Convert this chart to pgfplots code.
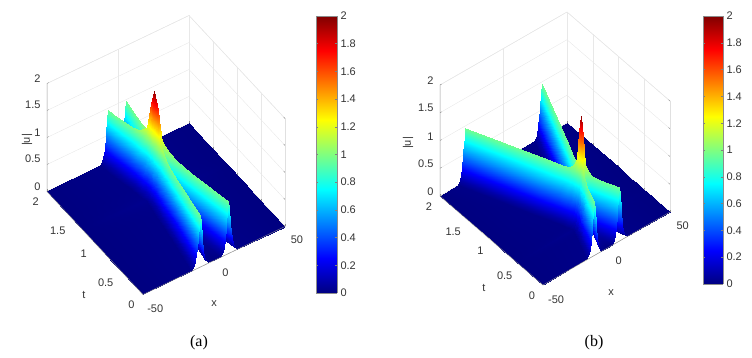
\documentclass[border=0pt]{standalone}
\usepackage{fontspec}
\setmainfont{Liberation Sans}
\newfontfamily\capfont{Liberation Serif}
\usepackage{pgfplots}
\pgfplotsset{compat=1.18}
\pgfplotsset{
  colormap={myjet}{rgb255(0pt)=(0,0,128); rgb255(1pt)=(0,0,255); rgb255(3pt)=(0,255,255); rgb255(5pt)=(255,255,0); rgb255(7pt)=(255,0,0); rgb255(8pt)=(128,0,0)},
  surfbox/.style={
    anchor=origin, clip=false,
    xmin=-50, xmax=50, ymin=0, ymax=2, zmin=0, zmax=2,
    xtick={-50,0,50}, ytick={0,0.5,1,1.5,2}, ztick={0,0.5,1,1.5,2},
    tick pos=left,
    grid=major, grid style={black!9, line width=0.4pt},
    axis line style={black!12, line width=0.4pt},
    tick style={black!45, line width=0.4pt}, major tick length=2pt,
    tick label style={font=\fontsize{11}{13}\selectfont, text=black!80},
    xticklabel style={xshift=8pt, yshift=-3.5pt},
    yticklabel style={xshift=-6pt, yshift=-2pt},
    zticklabel style={xshift=-3pt, yshift=3.5pt},
    /pgf/number format/assume math mode=true,
    point meta min=0, point meta max=2, colormap name=myjet,
  },
  cbar/.style={
    anchor=south west, scale only axis, width=21pt, height=277pt, enlargelimits=false,
    view={0}{90},
    xmin=0, xmax=1, ymin=0, ymax=2, xtick=\empty, ytick={0,0.2,...,2.01},
    yticklabel pos=right, axis on top,
    axis line style={black!45, line width=0.4pt},
    tick style={black!50, line width=0.4pt}, major tick length=2pt,
    tick label style={font=\fontsize{11}{13}\selectfont, text=black!80},
    /pgf/number format/assume math mode=true,
    /pgf/number format/fixed,
    point meta min=0, point meta max=2, colormap name=myjet,
  },
}
\begin{document}
\begin{tikzpicture}
\path[use as bounding box] (0pt,0pt) rectangle (752pt,358pt);

% panel a
\begin{axis}[surfbox, at={(214pt,97.5pt)},
  x={(1.42pt,0.68pt)}, y={(-48pt,51.5pt)}, z={(0pt,54pt)}]
\addplot3[surf, shader=interp, mesh/rows=13, mesh/cols=25] coordinates {
(-50,0,0)(-16,0,.016)(-14,0,.079)(-12.5,0,.258)(-11.5,0,.536)(-10.7,0,.835)(-10,0,.97)(-9.3,0,.835)(-8.5,0,.536)(-7.5,0,.258)(-6,0,.079)(-4,0,.016)(0,0,.001)(4,0,.016)(6,0,.079)(7.5,0,.258)(8.5,0,.536)(9.3,0,.835)(10,0,.97)(10.7,0,.835)(11.5,0,.536)(12.5,0,.258)(14,0,.079)(16,0,.016)(50,0,0)
(-50,.615,0)(-11.2,.615,.016)(-9.2,.615,.079)(-7.7,.615,.258)(-6.7,.615,.536)(-5.9,.615,.835)(-5.2,.615,.971)(-4.5,.615,.836)(-3.7,.615,.538)(-2.7,.615,.263)(-1.7,.615,.129)(-.9,.615,.083)(-.2,.615,.071)(.5,.615,.083)(1.3,.615,.129)(2.3,.615,.263)(3.3,.615,.538)(4.1,.615,.836)(4.8,.615,.971)(5.5,.615,.835)(6.3,.615,.536)(7.3,.615,.258)(8.8,.615,.079)(10.8,.615,.016)(50,.615,0)
(-50,.86,0)(-9.3,.86,.016)(-7.3,.86,.08)(-5.8,.86,.26)(-4.8,.86,.541)(-4,.86,.844)(-3.3,.86,.986)(-2.8,.86,.921)(-2.3,.86,.761)(-1.8,.86,.589)(-1.3,.86,.455)(-.8,.86,.376)(-.3,.86,.349)(.2,.86,.376)(.7,.86,.455)(1.2,.86,.589)(1.7,.86,.761)(2.2,.86,.921)(2.7,.86,.986)(3.4,.86,.844)(4.2,.86,.541)(5.2,.86,.26)(6.7,.86,.08)(8.7,.86,.016)(50,.86,0)
(-50,.984,0)(-8.3,.984,.016)(-6.3,.984,.082)(-4.8,.984,.269)(-3.8,.984,.56)(-3,.984,.88)(-2.3,.984,1.049)(-1.9,.984,1.031)(-1.5,.984,.949)(-1.1,.984,.852)(-.7,.984,.779)(-.5,.984,.759)(-.3,.984,.753)(-.1,.984,.759)(.1,.984,.779)(.5,.984,.852)(.9,.984,.949)(1.3,.984,1.031)(1.7,.984,1.049)(2.4,.984,.88)(3.2,.984,.56)(4.2,.984,.269)(5.7,.984,.082)(7.7,.984,.016)(50,.984,0)
(-50,1.107,0)(-7.4,1.107,.019)(-5.4,1.107,.09)(-3.9,1.107,.29)(-2.9,1.107,.6)(-2.1,1.107,.95)(-1.4,1.107,1.14)(-1.2,1.107,1.17)(-1,1.107,1.19)(-.8,1.107,1.2)(-.6,1.107,1.21)(-.5,1.107,1.21)(-.4,1.107,1.21)(-.3,1.107,1.21)(-.2,1.107,1.21)(0,1.107,1.2)(.2,1.107,1.19)(.4,1.107,1.17)(.6,1.107,1.14)(1.3,1.107,.95)(2.1,1.107,.6)(3.1,1.107,.29)(4.6,1.107,.09)(6.6,1.107,.019)(50,1.107,0)
(-50,1.169,0)(-6.9,1.169,.023)(-4.9,1.169,.11)(-3.4,1.169,.35)(-2.4,1.169,.72)(-1.6,1.169,1.12)(-.9,1.169,1.6)(-.8,1.169,1.63)(-.7,1.169,1.66)(-.6,1.169,1.68)(-.5,1.169,1.69)(-.45,1.169,1.7)(-.4,1.169,1.7)(-.35,1.169,1.7)(-.3,1.169,1.69)(-.2,1.169,1.68)(-.1,1.169,1.66)(0,1.169,1.63)(.1,1.169,1.6)(.8,1.169,1.12)(1.6,1.169,.72)(2.6,1.169,.35)(4.1,1.169,.11)(6.1,1.169,.023)(50,1.169,0)
(-50,1.23,0)(-6.4,1.23,.03)(-4.4,1.23,.14)(-2.9,1.23,.45)(-1.9,1.23,.95)(-1.1,1.23,1.5)(-.4,1.23,1.98)(-.4,1.23,1.98)(-.4,1.23,1.98)(-.4,1.23,1.98)(-.4,1.23,1.98)(-.4,1.23,1.98)(-.4,1.23,1.98)(-.4,1.23,1.98)(-.4,1.23,1.98)(-.4,1.23,1.98)(-.4,1.23,1.98)(-.4,1.23,1.98)(-.4,1.23,1.98)(.3,1.23,1.5)(1.1,1.23,.95)(2.1,1.23,.45)(3.6,1.23,.14)(5.6,1.23,.03)(50,1.23,0)
(-50,1.29,0)(-6.9,1.29,.023)(-4.9,1.29,.11)(-3.4,1.29,.35)(-2.4,1.29,.72)(-1.6,1.29,1.12)(-.9,1.29,1.6)(-.8,1.29,1.63)(-.7,1.29,1.66)(-.6,1.29,1.68)(-.5,1.29,1.69)(-.45,1.29,1.7)(-.4,1.29,1.7)(-.35,1.29,1.7)(-.3,1.29,1.69)(-.2,1.29,1.68)(-.1,1.29,1.66)(0,1.29,1.63)(.1,1.29,1.6)(.8,1.29,1.12)(1.6,1.29,.72)(2.6,1.29,.35)(4.1,1.29,.11)(6.1,1.29,.023)(50,1.29,0)
(-50,1.353,0)(-7.5,1.353,.019)(-5.5,1.353,.09)(-4,1.353,.29)(-3,1.353,.6)(-2.2,1.353,.95)(-1.5,1.353,1.14)(-1.3,1.353,1.17)(-1.1,1.353,1.19)(-.9,1.353,1.2)(-.7,1.353,1.21)(-.6,1.353,1.21)(-.5,1.353,1.21)(-.4,1.353,1.21)(-.3,1.353,1.21)(-.1,1.353,1.2)(.1,1.353,1.19)(.3,1.353,1.17)(.5,1.353,1.14)(1.2,1.353,.95)(2,1.353,.6)(3,1.353,.29)(4.5,1.353,.09)(6.5,1.353,.019)(50,1.353,0)
(-50,1.476,0)(-8.5,1.476,.016)(-6.5,1.476,.082)(-5,1.476,.269)(-4,1.476,.56)(-3.2,1.476,.88)(-2.5,1.476,1.049)(-2.1,1.476,1.031)(-1.7,1.476,.949)(-1.3,1.476,.852)(-.9,1.476,.779)(-.7,1.476,.759)(-.5,1.476,.753)(-.3,1.476,.759)(-.1,1.476,.779)(.3,1.476,.852)(.7,1.476,.949)(1.1,1.476,1.031)(1.5,1.476,1.049)(2.2,1.476,.88)(3,1.476,.56)(4,1.476,.269)(5.5,1.476,.082)(7.5,1.476,.016)(50,1.476,0)
(-50,1.6,0)(-9.6,1.6,.016)(-7.6,1.6,.08)(-6.1,1.6,.26)(-5.1,1.6,.541)(-4.3,1.6,.844)(-3.6,1.6,.986)(-3.1,1.6,.921)(-2.6,1.6,.761)(-2.1,1.6,.589)(-1.6,1.6,.455)(-1.1,1.6,.376)(-.6,1.6,.349)(-.1,1.6,.376)(.4,1.6,.455)(.9,1.6,.589)(1.4,1.6,.761)(1.9,1.6,.921)(2.4,1.6,.986)(3.1,1.6,.844)(3.9,1.6,.541)(4.9,1.6,.26)(6.4,1.6,.08)(8.4,1.6,.016)(50,1.6,0)
(-50,1.845,0)(-11.7,1.845,.016)(-9.7,1.845,.079)(-8.2,1.845,.258)(-7.2,1.845,.536)(-6.4,1.845,.835)(-5.7,1.845,.971)(-5,1.845,.836)(-4.2,1.845,.538)(-3.2,1.845,.263)(-2.2,1.845,.129)(-1.4,1.845,.083)(-.7,1.845,.071)(0,1.845,.083)(.8,1.845,.129)(1.8,1.845,.263)(2.8,1.845,.538)(3.6,1.845,.836)(4.3,1.845,.971)(5,1.845,.835)(5.8,1.845,.536)(6.8,1.845,.258)(8.3,1.845,.079)(10.3,1.845,.016)(50,1.845,0)
(-50,2,0)(-13,2,.016)(-11,2,.079)(-9.5,2,.258)(-8.5,2,.536)(-7.7,2,.835)(-7,2,.971)(-6.3,2,.836)(-5.5,2,.537)(-4.5,2,.26)(-3,2,.081)(-1.8,2,.036)(-.7,2,.025)(.4,2,.036)(1.6,2,.081)(3.1,2,.26)(4.1,2,.537)(4.9,2,.836)(5.6,2,.971)(6.3,2,.835)(7.1,2,.536)(8.1,2,.258)(9.6,2,.079)(11.6,2,.016)(50,2,0)
};
\draw[black!45, line width=0.4pt] (axis cs:-50,2,2)--(axis cs:-50,2,0)--(axis cs:-50,0,0)--(axis cs:50,0,0);
\end{axis}
\begin{axis}[cbar, at={(316pt,65pt)}]
\addplot3[surf, shader=interp, point meta=y, mesh/rows=2, mesh/cols=2] coordinates {(0,0,0)(1,0,0)(0,2,0)(1,2,0)};
\end{axis}

% panel b
\begin{axis}[surfbox, at={(606.5pt,109.5pt)},
  x={(1.27pt,0.73pt)}, y={(-51.5pt,44.5pt)}, z={(0pt,55.5pt)}]
\addplot3[surf, shader=interp, mesh/rows=14, mesh/cols=25] coordinates {
(-50,0,0)(-16,0,.016)(-14,0,.079)(-12.5,0,.258)(-11.5,0,.536)(-10.7,0,.835)(-10,0,.97)(-9.3,0,.835)(-8.5,0,.536)(-7.5,0,.258)(-6,0,.079)(-4,0,.016)(0,0,.001)(4,0,.016)(6,0,.079)(7.5,0,.258)(8.5,0,.536)(9.3,0,.835)(10,0,.97)(10.7,0,.835)(11.5,0,.536)(12.5,0,.258)(14,0,.079)(16,0,.016)(50,0,0)
(-50,.25,0)(-11,.25,.016)(-9,.25,.079)(-7.5,.25,.258)(-6.5,.25,.536)(-5.7,.25,.835)(-5,.25,.971)(-4.3,.25,.836)(-3.5,.25,.538)(-2.5,.25,.263)(-1.5,.25,.129)(-.7,.25,.083)(0,.25,.071)(.7,.25,.083)(1.5,.25,.129)(2.5,.25,.263)(3.5,.25,.538)(4.3,.25,.836)(5,.25,.971)(5.7,.25,.835)(6.5,.25,.536)(7.5,.25,.258)(9,.25,.079)(11,.25,.016)(50,.25,0)
(-50,.35,0)(-9,.35,.016)(-7,.35,.08)(-5.5,.35,.26)(-4.5,.35,.541)(-3.7,.35,.844)(-3,.35,.986)(-2.5,.35,.921)(-2,.35,.761)(-1.5,.35,.589)(-1,.35,.455)(-.5,.35,.376)(0,.35,.349)(.5,.35,.376)(1,.35,.455)(1.5,.35,.589)(2,.35,.761)(2.5,.35,.921)(3,.35,.986)(3.7,.35,.844)(4.5,.35,.541)(5.5,.35,.26)(7,.35,.08)(9,.35,.016)(50,.35,0)
(-50,.4,0)(-8,.4,.016)(-6,.4,.082)(-4.5,.4,.269)(-3.5,.4,.56)(-2.7,.4,.88)(-2,.4,1.049)(-1.6,.4,1.031)(-1.2,.4,.949)(-.8,.4,.852)(-.4,.4,.779)(-.2,.4,.759)(0,.4,.753)(.2,.4,.759)(.4,.4,.779)(.8,.4,.852)(1.2,.4,.949)(1.6,.4,1.031)(2,.4,1.049)(2.7,.4,.88)(3.5,.4,.56)(4.5,.4,.269)(6,.4,.082)(8,.4,.016)(50,.4,0)
(-50,.45,0)(-7,.45,.019)(-5,.45,.09)(-3.5,.45,.29)(-2.5,.45,.6)(-1.7,.45,.95)(-1,.45,1.14)(-.8,.45,1.17)(-.6,.45,1.19)(-.4,.45,1.2)(-.2,.45,1.21)(-.1,.45,1.21)(0,.45,1.21)(.1,.45,1.21)(.2,.45,1.21)(.4,.45,1.2)(.6,.45,1.19)(.8,.45,1.17)(1,.45,1.14)(1.7,.45,.95)(2.5,.45,.6)(3.5,.45,.29)(5,.45,.09)(7,.45,.019)(50,.45,0)
(-50,.475,0)(-6.5,.475,.023)(-4.5,.475,.11)(-3,.475,.35)(-2,.475,.72)(-1.2,.475,1.12)(-.5,.475,1.6)(-.4,.475,1.63)(-.3,.475,1.66)(-.2,.475,1.68)(-.1,.475,1.69)(-.05,.475,1.7)(0,.475,1.7)(.05,.475,1.7)(.1,.475,1.69)(.2,.475,1.68)(.3,.475,1.66)(.4,.475,1.63)(.5,.475,1.6)(1.2,.475,1.12)(2,.475,.72)(3,.475,.35)(4.5,.475,.11)(6.5,.475,.023)(50,.475,0)
(-50,.5,0)(-6,.5,.03)(-4,.5,.14)(-2.5,.5,.45)(-1.5,.5,.95)(-.7,.5,1.5)(0,.5,1.98)(0,.5,1.98)(0,.5,1.98)(0,.5,1.98)(0,.5,1.98)(0,.5,1.98)(0,.5,1.98)(0,.5,1.98)(0,.5,1.98)(0,.5,1.98)(0,.5,1.98)(0,.5,1.98)(0,.5,1.98)(.7,.5,1.5)(1.5,.5,.95)(2.5,.5,.45)(4,.5,.14)(6,.5,.03)(50,.5,0)
(-50,.525,0)(-6.5,.525,.023)(-4.5,.525,.11)(-3,.525,.35)(-2,.525,.72)(-1.2,.525,1.12)(-.5,.525,1.6)(-.4,.525,1.63)(-.3,.525,1.66)(-.2,.525,1.68)(-.1,.525,1.69)(-.05,.525,1.7)(0,.525,1.7)(.05,.525,1.7)(.1,.525,1.69)(.2,.525,1.68)(.3,.525,1.66)(.4,.525,1.63)(.5,.525,1.6)(1.2,.525,1.12)(2,.525,.72)(3,.525,.35)(4.5,.525,.11)(6.5,.525,.023)(50,.525,0)
(-50,.55,0)(-7,.55,.019)(-5,.55,.09)(-3.5,.55,.29)(-2.5,.55,.6)(-1.7,.55,.95)(-1,.55,1.14)(-.8,.55,1.17)(-.6,.55,1.19)(-.4,.55,1.2)(-.2,.55,1.21)(-.1,.55,1.21)(0,.55,1.21)(.1,.55,1.21)(.2,.55,1.21)(.4,.55,1.2)(.6,.55,1.19)(.8,.55,1.17)(1,.55,1.14)(1.7,.55,.95)(2.5,.55,.6)(3.5,.55,.29)(5,.55,.09)(7,.55,.019)(50,.55,0)
(-50,.6,0)(-8,.6,.016)(-6,.6,.082)(-4.5,.6,.269)(-3.5,.6,.56)(-2.7,.6,.88)(-2,.6,1.049)(-1.6,.6,1.031)(-1.2,.6,.949)(-.8,.6,.852)(-.4,.6,.779)(-.2,.6,.759)(0,.6,.753)(.2,.6,.759)(.4,.6,.779)(.8,.6,.852)(1.2,.6,.949)(1.6,.6,1.031)(2,.6,1.049)(2.7,.6,.88)(3.5,.6,.56)(4.5,.6,.269)(6,.6,.082)(8,.6,.016)(50,.6,0)
(-50,.65,0)(-9,.65,.016)(-7,.65,.08)(-5.5,.65,.26)(-4.5,.65,.541)(-3.7,.65,.844)(-3,.65,.986)(-2.5,.65,.921)(-2,.65,.761)(-1.5,.65,.589)(-1,.65,.455)(-.5,.65,.376)(0,.65,.349)(.5,.65,.376)(1,.65,.455)(1.5,.65,.589)(2,.65,.761)(2.5,.65,.921)(3,.65,.986)(3.7,.65,.844)(4.5,.65,.541)(5.5,.65,.26)(7,.65,.08)(9,.65,.016)(50,.65,0)
(-50,.75,0)(-11,.75,.016)(-9,.75,.079)(-7.5,.75,.258)(-6.5,.75,.536)(-5.7,.75,.835)(-5,.75,.971)(-4.3,.75,.836)(-3.5,.75,.538)(-2.5,.75,.263)(-1.5,.75,.129)(-.7,.75,.083)(0,.75,.071)(.7,.75,.083)(1.5,.75,.129)(2.5,.75,.263)(3.5,.75,.538)(4.3,.75,.836)(5,.75,.971)(5.7,.75,.835)(6.5,.75,.536)(7.5,.75,.258)(9,.75,.079)(11,.75,.016)(50,.75,0)
(-50,1,0)(-16,1,.016)(-14,1,.079)(-12.5,1,.258)(-11.5,1,.536)(-10.7,1,.835)(-10,1,.97)(-9.3,1,.835)(-8.5,1,.536)(-7.5,1,.258)(-6,1,.079)(-4,1,.016)(0,1,.001)(4,1,.016)(6,1,.079)(7.5,1,.258)(8.5,1,.536)(9.3,1,.835)(10,1,.97)(10.7,1,.835)(11.5,1,.536)(12.5,1,.258)(14,1,.079)(16,1,.016)(50,1,0)
(-50,2,0)(-36,2,.016)(-34,2,.079)(-32.5,2,.258)(-31.5,2,.536)(-30.7,2,.835)(-30,2,.97)(-29.3,2,.835)(-28.5,2,.536)(-27.5,2,.258)(-26,2,.079)(-24,2,.016)(0,2,0)(24,2,.016)(26,2,.079)(27.5,2,.258)(28.5,2,.536)(29.3,2,.835)(30,2,.97)(30.7,2,.835)(31.5,2,.536)(32.5,2,.258)(34,2,.079)(36,2,.016)(50,2,0)
};
\draw[black!45, line width=0.4pt] (axis cs:-50,2,2)--(axis cs:-50,2,0)--(axis cs:-50,0,0)--(axis cs:50,0,0);
\end{axis}
\begin{axis}[cbar, at={(703pt,74pt)}, width=20pt, height=268pt]
\addplot3[surf, shader=interp, point meta=y, mesh/rows=2, mesh/cols=2] coordinates {(0,0,0)(1,0,0)(0,2,0)(1,2,0)};
\end{axis}

% axis labels and captions, positions in px from the lower left
\begin{scope}[every node/.style={font=\fontsize{11}{13}\selectfont, text=black!80}]
\node at (214pt,54pt) {x};
\node at (84pt,63pt) {t};
\node[rotate=90] at (27pt,218pt) {|u|};
\node at (611pt,65pt) {x};
\node at (484pt,70pt) {t};
\node[rotate=90] at (408pt,215pt) {|u|};
\end{scope}
\node[font=\capfont\fontsize{16}{18}\selectfont] at (199pt,15pt) {(a)};
\node[font=\capfont\fontsize{16}{18}\selectfont] at (594pt,15pt) {(b)};
\end{tikzpicture}
\end{document}
